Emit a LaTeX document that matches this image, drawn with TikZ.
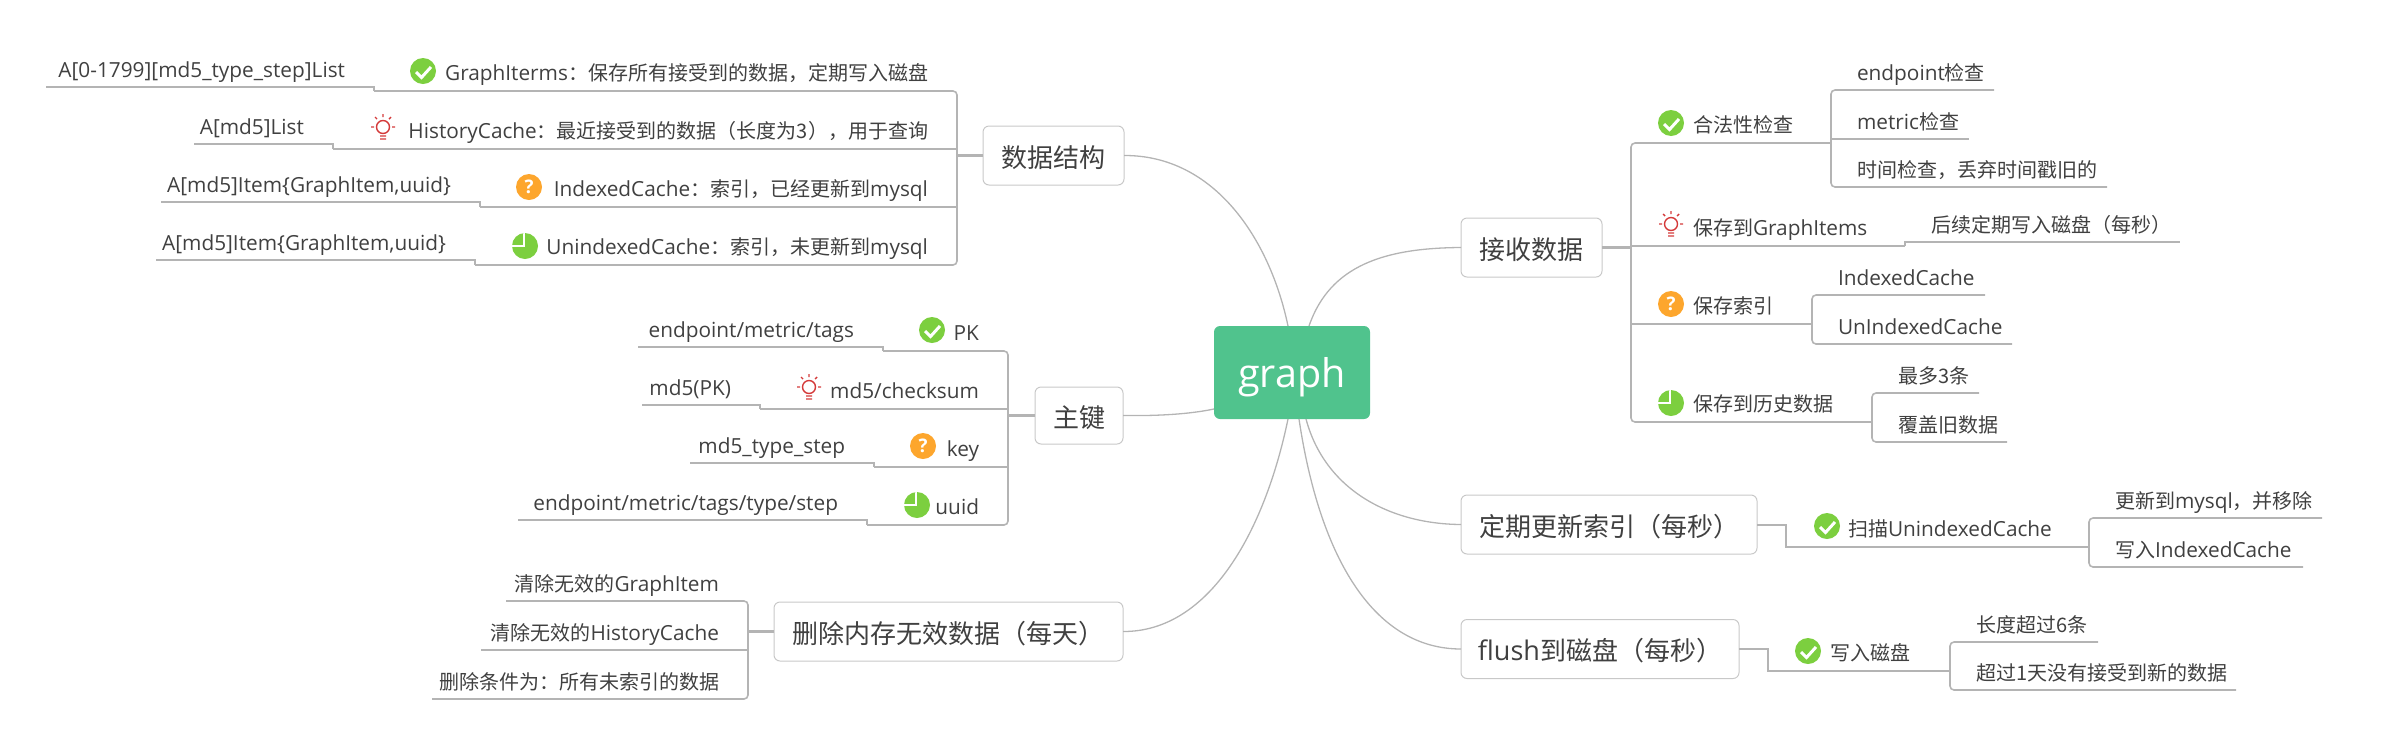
\documentclass[tikz,border=0pt]{standalone}
\usepackage{fontspec}
\setmainfont[Scale=1.04]{Open Sans}
\newfontfamily\zh{Noto Sans CJK SC}
\definecolor{ink}{HTML}{404040}
\definecolor{wire}{HTML}{B4B4B4}
\definecolor{rim}{HTML}{C8C8C8}
\definecolor{rootgreen}{HTML}{50C38D}
\definecolor{okgreen}{HTML}{7CCF3F}
\definecolor{askorange}{HTML}{FDA62D}
\definecolor{bulbred}{HTML}{D43A3A}
\tikzset{
    line/.style={inner sep=0pt, outer sep=0pt, anchor=south west, text=ink,
        font=\fontsize{20}{24}\selectfont, text height=16pt},
    lleaf/.style={line, text width=#1pt, align=right, text depth=10pt,
        execute at end node=\hspace*{29pt}},
    litem/.style={line, text width=#1pt, align=right, text depth=11pt,
        execute at end node=\hspace*{29pt}},
    rleaf/.style={line, text width=#1pt, align=left, text depth=10pt,
        execute at begin node=\hspace*{26pt}},
    ritem/.style={line, text width=#1pt, align=left, text depth=11pt,
        execute at begin node=\hspace*{62pt}},
    topic/.style={draw=rim, line width=1pt, rounded corners=6pt, inner sep=0pt,
        outer sep=0pt, text=ink, font=\fontsize{26}{30}\selectfont, minimum height=59pt,
        text height=26pt, text depth=3pt},
    rootbox/.style={fill=rootgreen, rounded corners=6pt, inner sep=0pt, outer sep=0pt,
        text=white, font=\fontsize{38}{46}\selectfont, minimum width=156pt, minimum height=93pt,
        text height=35pt, text depth=5pt},
    wirelink/.style={draw=wire, line width=1.6pt, rounded corners=4pt},
    stem/.style={draw=wire, line width=2.4pt},
    twig/.style={draw=wire, line width=1.3pt},
    okmark/.style={circle, fill=okgreen, minimum size=26pt, inner sep=0pt,
        path picture={\draw[white, line width=3pt, shift={(path picture bounding box.center)}]
            (-7,1) -- (-1.5,6.5) -- (8,-4);}},
    askmark/.style={circle, fill=askorange, minimum size=26pt, inner sep=0pt, text=white,
        font=\fontsize{18}{18}\selectfont\bfseries},
    piemark/.style={circle, fill=okgreen, minimum size=26pt, inner sep=0pt,
        path picture={\draw[white, line width=2pt, shift={(path picture bounding box.center)}]
            (-1,-14) -- (-1,0) -- (-14,0);}},
    pics/bulb/.style={code={
        \draw[bulbred, line width=1.4pt] (0,0) circle (6.5pt);
        \draw[bulbred, line width=1.4pt] (0,-13) -- (0,-10) (-8,-10) -- (-6,-8) (8,-10) -- (6,-8)
            (-12,0) -- (-9,0) (12,0) -- (9,0) (-3,9) -- (3,9) (-3,12) -- (3,12);
    }}
}
\begin{document}
\begin{tikzpicture}[x=1pt, y=-1pt]
    \useasboundingbox (0,0) rectangle (2382,748);

    \node[rootbox] (root) at (1292,372.5) {graph};

    \node[topic, minimum width=141pt] (data) at (1053.5,155.5) {\zh 数据结构};
    \node[topic, minimum width=88pt, minimum height=57pt] (pkey) at (1079,415.5) {\zh 主键};
    \node[topic, minimum width=349pt] (purge) at (948.5,631.5) {\zh 删除内存无效数据（每天）};
    \node[topic, minimum width=141pt] (recv) at (1531.5,247.5) {\zh 接收数据};
    \node[topic, minimum width=296pt] (index) at (1609,524.5) {\zh 定期更新索引（每秒）};
    \node[topic, minimum width=278pt] (flush) at (1600,649) {flush{\zh 到磁盘（每秒）}};

    \draw[twig] (data.east) .. controls (1215,155) and (1270,240) .. ([xshift=-4pt]root.north);
    \draw[twig] (pkey.east) .. controls (1160,416) and (1190,414) .. ([yshift=-36.5pt]root.west);
    \draw[twig] (purge.east) .. controls (1210,632) and (1265,530) .. ([xshift=-4pt]root.south);
    \draw[twig] (recv.west) .. controls (1385,248) and (1330,265) .. ([xshift=17pt]root.north);
    \draw[twig] (index.west) .. controls (1390,524) and (1325,490) .. ([xshift=14pt]root.south);
    \draw[twig] (flush.west) .. controls (1375,649) and (1320,560) .. ([xshift=7pt]root.south);

    \node[litem=583] (gi) at (374,91) {GraphIterms{\zh ：保存所有接受到的数据，定期写入磁盘}};
    \node[litem=624] (hc) at (333,149) {HistoryCache{\zh ：最近接受到的数据（长度为3），用于查询}};
    \node[litem=477] (ic) at (480,207) {IndexedCache{\zh ：索引，已经更新到}mysql};
    \node[litem=482] (uc) at (475,265) {UnindexedCache{\zh ：索引，未更新到}mysql};
    \node[lleaf=328] (gilist) at (46,87) {A[0-1799][md5\_type\_step]List};
    \node[lleaf=139] (hclist) at (194,144) {A[md5]List};
    \node[lleaf=319] (icitem) at (161,202) {A[md5]Item\{GraphItem,uuid\}};
    \node[lleaf=319] (ucitem) at (156,260) {A[md5]Item\{GraphItem,uuid\}};
    \node[okmark] (giok) at (423,71) {};
    \pic (hcbulb) at (383,127) {bulb};
    \node[askmark] (icask) at (529,187) {?};
    \node[piemark] (ucpie) at (525,246) {};

    \draw[stem] (data.west) -- (data.west -| gi.south east);
    \draw[wirelink] (gi.south west) -- (gi.south east) -- (uc.south east) -- (uc.south west);
    \draw[wirelink] (hc.south west) -- (hc.south east);
    \draw[wirelink] (ic.south west) -- (ic.south east);
    \draw[wirelink, rounded corners=0pt] (gilist.south west) -- (gilist.south east) -- (gi.south west);
    \draw[wirelink, rounded corners=0pt] (hclist.south west) -- (hclist.south east) -- (hc.south west);
    \draw[wirelink, rounded corners=0pt] (icitem.south west) -- (icitem.south east) -- (ic.south west);
    \draw[wirelink, rounded corners=0pt] (ucitem.south west) -- (ucitem.south east) -- (uc.south west);

    \node[litem=125] (pk) at (883,351) {PK};
    \node[litem=248] (md) at (760,409) {md5/checksum};
    \node[litem=134] (ky) at (874,467) {key};
    \node[litem=141] (uu) at (867,525) {uuid};
    \node[lleaf=245] (pkval) at (638,347) {endpoint/metric/tags};
    \node[lleaf=118] (mdval) at (642,405) {md5(PK)};
    \node[lleaf=184] (kyval) at (690,463) {md5\_type\_step};
    \node[lleaf=349] (uuval) at (518,520) {endpoint/metric/tags/type/step};
    \node[okmark] (pkok) at (932,330) {};
    \pic (mdbulb) at (809,387) {bulb};
    \node[askmark] (kyask) at (923,446) {?};
    \node[piemark] (uupie) at (917,505) {};

    \draw[stem] (pkey.west) -- (pkey.west -| pk.south east);
    \draw[wirelink] (pk.south west) -- (pk.south east) -- (uu.south east) -- (uu.south west);
    \draw[wirelink] (md.south west) -- (md.south east);
    \draw[wirelink] (ky.south west) -- (ky.south east);
    \draw[wirelink, rounded corners=0pt] (pkval.south west) -- (pkval.south east) -- (pk.south west);
    \draw[wirelink, rounded corners=0pt] (mdval.south west) -- (mdval.south east) -- (md.south west);
    \draw[wirelink, rounded corners=0pt] (kyval.south west) -- (kyval.south east) -- (ky.south west);
    \draw[wirelink, rounded corners=0pt] (uuval.south west) -- (uuval.south east) -- (uu.south west);

    \node[lleaf=242] (pg) at (506,601) {{\zh 清除无效的}GraphItem};
    \node[lleaf=267] (ph) at (481,650) {{\zh 清除无效的}HistoryCache};
    \node[lleaf=316] (pc) at (432,699) {{\zh 删除条件为：所有未索引的数据}};

    \draw[stem] (purge.west) -- (purge.west -| ph.south east);
    \draw[wirelink] (pg.south west) -- (pg.south east) -- (pc.south east) -- (pc.south west);
    \draw[wirelink] (ph.south west) -- (ph.south east);

    \node[ritem=200] (valid) at (1631,143) {{\zh 合法性检查}};
    \node[ritem=274] (tog) at (1631,246) {{\zh 保存到}GraphItems};
    \node[ritem=181] (tosy) at (1631,324) {{\zh 保存索引}};
    \node[ritem=241] (tohs) at (1631,422) {{\zh 保存到历史数据}};
    \node[okmark] (validok) at (1671,123) {};
    \pic (togbulb) at (1671,224) {bulb};
    \node[askmark] (tosyask) at (1671,304) {?};
    \node[piemark] (tohspie) at (1671,403) {};

    \node[rleaf=163] (va) at (1831,90) {endpoint{\zh 检查}};
    \node[rleaf=138] (vb) at (1831,139) {metric{\zh 检查}};
    \node[rleaf=276] (vc) at (1831,187) {{\zh 时间检查，丢弃时间戳旧的}};
    \node[rleaf=275] (tgl) at (1905,242) {{\zh 后续定期写入磁盘（每秒）}};
    \node[rleaf=173] (sa) at (1812,295) {IndexedCache};
    \node[rleaf=200] (sb) at (1812,344) {UnIndexedCache};
    \node[rleaf=107] (ha) at (1872,393) {{\zh 最多3条}};
    \node[rleaf=135] (hb) at (1872,442) {{\zh 覆盖旧数据}};

    \draw[stem] (recv.east) -- (recv.east -| valid.south west);
    \draw[wirelink] (valid.south east) -- (valid.south west) -- (tohs.south west) -- (tohs.south east);
    \draw[wirelink] (tog.south west) -- (tog.south east);
    \draw[wirelink] (tosy.south west) -- (tosy.south east);
    \draw[wirelink, rounded corners=0pt] (tog.south east) -- (tgl.south west) -- (tgl.south east);
    \draw[wirelink] (va.south east) -- (va.south west) -- (vc.south west) -- (vc.south east);
    \draw[wirelink] (vb.south west) -- (vb.south east);
    \draw[wirelink] (sa.south east) -- (sa.south west) -- (sb.south west) -- (sb.south east);
    \draw[wirelink] (ha.south east) -- (ha.south west) -- (hb.south west) -- (hb.south east);

    \node[ritem=303] (scan) at (1786,547) {{\zh 扫描}UnindexedCache};
    \node[okmark] (scanok) at (1827,526) {};
    \node[rleaf=233] (ia) at (2089,518) {{\zh 更新到}mysql{\zh ，并移除}};
    \node[rleaf=214] (ib) at (2089,567) {{\zh 写入}IndexedCache};

    \draw[wirelink, rounded corners=0pt, line width=2pt] (index.east) -- (index.east -| scan.south west) -- (scan.south west) -- (scan.south east);
    \draw[wirelink] (ia.south east) -- (ia.south west) -- (ib.south west) -- (ib.south east);

    \node[ritem=182] (wr) at (1768,671) {{\zh 写入磁盘}};
    \node[okmark] (wrok) at (1808,651) {};
    \node[rleaf=148] (fa) at (1950,642) {{\zh 长度超过6条}};
    \node[rleaf=286] (fb) at (1950,690) {{\zh 超过1天没有接受到新的数据}};

    \draw[wirelink, rounded corners=0pt, line width=2pt] (flush.east) -- (flush.east -| wr.south west) -- (wr.south west) -- (wr.south east);
    \draw[wirelink] (fa.south east) -- (fa.south west) -- (fb.south west) -- (fb.south east);
\end{tikzpicture}
\end{document}
